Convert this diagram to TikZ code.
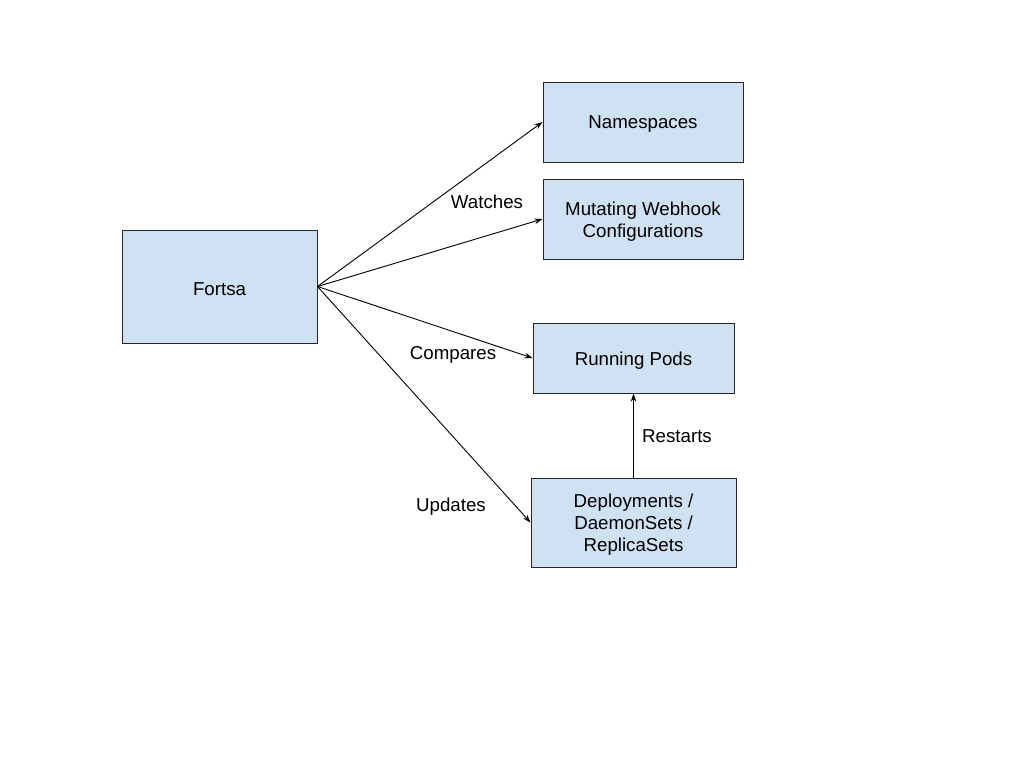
\documentclass[tikz,border=0pt]{standalone}
\usepackage{fontspec}
\setmainfont{Liberation Sans}
\usetikzlibrary{arrows.meta}
\definecolor{boxfill}{HTML}{CFE2F3}
\tikzset{
  box/.style={draw=black!85, fill=boxfill, line width=1pt, inner sep=0pt},
  boxtext/.style={label={[align=center, inner sep=0pt, yshift=-2.5pt, font=\fontsize{18.7}{22}\selectfont]center:{#1}}},
  conn/.style={line width=0.9pt, -{Stealth[length=8pt,width=5.5pt]}},
  lbl/.style={font=\fontsize{18.7}{22}\selectfont, inner sep=0pt}
}
\begin{document}
\begin{tikzpicture}[x=1pt,y=-1pt]
\useasboundingbox (0,0) rectangle (1024,768);
\fill[white] (0,0) rectangle (1024,768);
\node[box, minimum width=195pt, minimum height=113pt, boxtext={Fortsa}] (fortsa) at (219.5,286.5) {};
\node[box, minimum width=200pt, minimum height=80pt, boxtext={Namespaces}] (ns) at (643,122) {};
\node[box, minimum width=200pt, minimum height=80pt, boxtext={Mutating Webhook\\Configurations}] (mwc) at (643,219) {};
\node[box, minimum width=201pt, minimum height=70pt, boxtext={Running Pods}] (pods) at (633.5,358) {};
\node[box, minimum width=205pt, minimum height=89pt, boxtext={Deployments /\\DaemonSets /\\ReplicaSets}] (dep) at (633.5,522.5) {};
\draw[conn] (fortsa.east) -- (ns.west);
\draw[conn] (fortsa.east) -- (mwc.west);
\draw[conn] (fortsa.east) -- (pods.west);
\draw[conn] (fortsa.east) -- (dep.west);
\draw[conn] (dep.north) -- (pods.south);
\node[lbl] (watches) at (487,201.5) {Watches};
\node[lbl] (compares) at (453,355) {Compares};
\node[lbl] (updates) at (451,506.5) {Updates};
\node[lbl] (restarts) at (677,436.5) {Restarts};
\end{tikzpicture}
\end{document}
